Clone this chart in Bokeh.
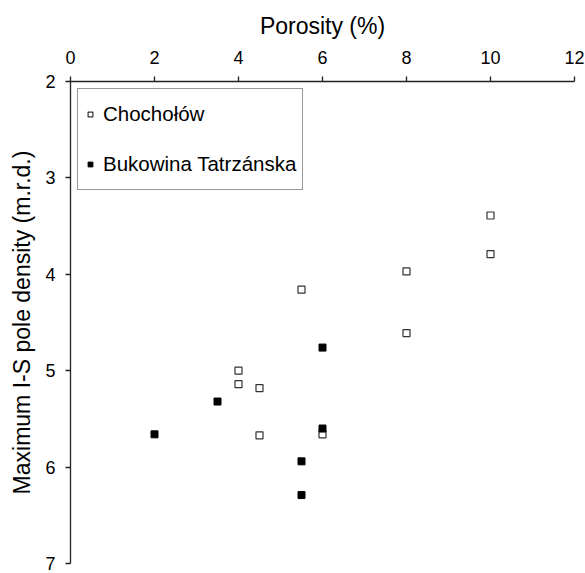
from bokeh.plotting import figure
from bokeh.models import Range1d, FixedTicker, Legend, LegendItem
from bokeh.embed import file_html
from bokeh.resources import INLINE

# Data
choch_x = [10, 10, 8, 5.5, 8, 4, 4, 4.5, 4.5, 6]
choch_y = [3.39, 3.79, 3.97, 4.16, 4.61, 5.00, 5.14, 5.18, 5.67, 5.66]
buk_x = [6, 3.5, 2, 6, 5.5, 5.5]
buk_y = [4.76, 5.32, 5.66, 5.60, 5.94, 6.29]

x_ticks = [0, 2, 4, 6, 8, 10, 12]
y_ticks = [2, 3, 4, 5, 6, 7]

FONT = "Liberation Sans"

p = figure(width=585, height=573, output_backend="svg", toolbar_location=None,
           x_range=Range1d(0, 12), y_range=Range1d(7, 2),
           x_axis_location="above",
           min_border_left=70, min_border_right=11,
           min_border_top=81, min_border_bottom=10)

p.grid.visible = False
p.outline_line_color = None
p.background_fill_color = "white"
p.border_fill_color = "white"

p.xaxis.ticker = FixedTicker(ticks=x_ticks)
p.yaxis.ticker = FixedTicker(ticks=y_ticks)
p.xaxis.axis_label = "Porosity (%)"
p.yaxis.axis_label = "Maximum I-S pole density (m.r.d.)"

for ax in (p.xaxis, p.yaxis):
    ax.axis_line_color = "#222222"
    ax.axis_line_width = 1.3
    ax.major_tick_line_color = "#222222"
    ax.major_tick_line_width = 1.3
    ax.major_tick_out = 5
    ax.major_tick_in = 0
    ax.minor_tick_line_color = None
    ax.major_label_text_font = FONT
    ax.major_label_text_font_size = "18px"
    ax.major_label_text_color = "black"
    ax.axis_label_text_font = FONT
    ax.axis_label_text_font_size = "23px"
    ax.axis_label_text_font_style = "normal"
    ax.axis_label_text_color = "black"

p.xaxis.major_label_standoff = 13
p.yaxis.major_label_standoff = 10
p.xaxis.axis_label_standoff = 9
p.yaxis.axis_label_standoff = 7

r1 = p.scatter(choch_x, choch_y, marker="square", size=7, fill_color="white",
               line_color="#333333", line_width=1.2)
r2 = p.scatter(buk_x, buk_y, marker="square", size=7, fill_color="black",
               line_color="black", line_width=1)

legend = Legend(items=[LegendItem(label="Chochołów", renderers=[r1]),
                       LegendItem(label="Bukowina Tatrzánska", renderers=[r2])],
                location="top_left", margin=7, padding=6, spacing=12,
                glyph_width=12, glyph_height=12, label_height=38,
                label_standoff=7,
                label_text_font=FONT, label_text_font_size="20.5px",
                label_text_color="black",
                border_line_color="#333333", border_line_width=1,
                background_fill_color="white", background_fill_alpha=1)
p.add_layout(legend)

open("out.html", "w").write(file_html(p, INLINE))
